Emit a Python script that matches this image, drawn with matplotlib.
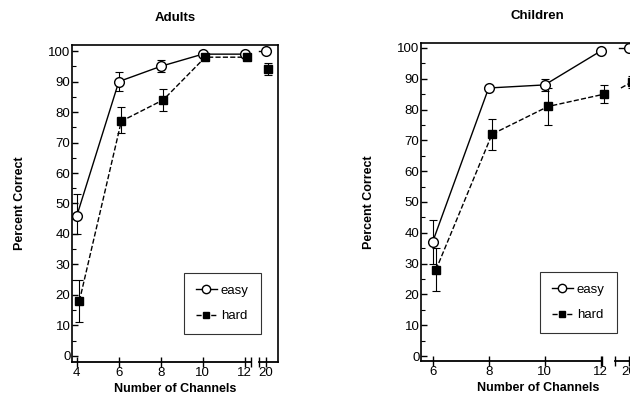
import matplotlib
matplotlib.use('Agg')
import matplotlib.pyplot as plt
from matplotlib.ticker import MultipleLocator

plt.rcParams['font.family'] = ['Liberation Sans', 'DejaVu Sans']

# Adults data (x: number of channels)
adult_channels = ['4', '6', '8', '10', '12', '20']
adult_easy = [46, 90, 95, 99, 99, 100]
adult_easy_lo = [40, 87, 93, 98, 98, 99]
adult_easy_hi = [53, 93, 97, 100, 100, 100]
adult_hard = [18, 77, 84, 98, 98, 94]
adult_hard_lo = [11, 73, 80.5, 97, 97, 92]
adult_hard_hi = [25, 81.5, 87.5, 99, 99, 96]

# Children data
child_channels = ['6', '8', '10', '12', '20']
child_easy = [37, 87, 88, 99, 100]
child_easy_lo = [30, 86, 86, 98, 99]
child_easy_hi = [44, 88, 90, 100, 100]
child_hard = [28, 72, 81, 85, 89]
child_hard_lo = [21, 67, 75, 82, 87]
child_hard_hi = [35, 77, 87, 88, 91]


def panel(ax, labels, easy, elo, ehi, hard, hlo, hhi, xlim, ylim, gap, title,
          hard_stub, leg_anchor):
    n = len(labels)
    # last category sits after an axis break, half a step away
    pos = list(range(n - 1)) + [n - 1.5]
    pos_h = [p + 0.06 for p in pos]
    k = n - 1

    # connected part
    ax.plot(pos[:k], easy[:k], '-', color='black', lw=1.0, zorder=2)
    ax.plot(pos_h[:k], hard[:k], '--', color='black', lw=1.0, zorder=2)
    # short stubs before the point after the break
    ax.plot([pos[k] - 0.17, pos[k]], [easy[k], easy[k]], '-', color='black', lw=1.0, zorder=2)
    if hard_stub:
        ax.plot([pos_h[k] - 0.2, pos_h[k]], [hard[k] - 2, hard[k]], '--',
                color='black', lw=1.0, zorder=2)

    ax.errorbar(pos, easy, yerr=[[e - l for e, l in zip(easy, elo)],
                                 [h - e for e, h in zip(easy, ehi)]],
                fmt='none', ecolor='black', elinewidth=0.8, capsize=3, capthick=0.8, zorder=1)
    ax.errorbar(pos_h, hard, yerr=[[e - l for e, l in zip(hard, hlo)],
                                   [h - e for e, h in zip(hard, hhi)]],
                fmt='none', ecolor='black', elinewidth=0.8, capsize=3, capthick=0.8, zorder=1)
    ax.plot(pos, easy, 'o', mfc='white', mec='black', mew=1.0, ms=7, zorder=3)
    ax.plot(pos_h, hard, 's', mfc='black', mec='black', ms=6, zorder=3)

    # legend handles
    h1, = ax.plot([], [], '-o', color='black', mfc='white', mec='black', ms=6, lw=1.0, label='easy')
    h2, = ax.plot([], [], '--s', color='black', mfc='black', ms=5, lw=1.0, label='hard')
    leg = ax.legend(handles=[h1, h2], loc='lower right', bbox_to_anchor=leg_anchor,
                    borderaxespad=0, frameon=True, fancybox=False, handlelength=1.6,
                    handletextpad=0.3, labelspacing=1.0, borderpad=0.9, fontsize=9.5)
    leg.get_frame().set_edgecolor('black')
    leg.get_frame().set_linewidth(0.8)

    ax.set_xlim(*xlim)
    ax.set_ylim(*ylim)
    ax.set_xticks(pos)
    ax.set_xticklabels(labels, fontsize=9.5)
    ax.yaxis.set_major_locator(MultipleLocator(10))
    ax.yaxis.set_minor_locator(MultipleLocator(5))
    ax.tick_params(axis='y', which='major', direction='in', length=4, width=1.0,
                   labelsize=9.5, pad=1)
    ax.tick_params(axis='y', which='minor', direction='in', length=3, width=0.8)
    ax.tick_params(axis='x', direction='inout', length=7, width=1.0, pad=0)

    # broken bottom axis
    ax.spines['bottom'].set_visible(False)
    tr = ax.get_xaxis_transform()
    ax.plot([xlim[0], gap[0]], [0, 0], color='black', lw=1.3, transform=tr, clip_on=False)
    ax.plot([gap[1], xlim[1]], [0, 0], color='black', lw=1.3, transform=tr, clip_on=False)
    ax.plot(gap, [0, 0], '|', color='black', ms=7, mew=1.0, transform=tr, clip_on=False)
    for s in ['left', 'top', 'right']:
        ax.spines[s].set_linewidth(1.2)

    ax.set_xlabel('Number of Channels', fontsize=9, fontweight='bold', labelpad=3)
    ax.set_ylabel('Percent Correct', fontsize=9, fontweight='bold', labelpad=16)
    ax.set_title(title, fontsize=9.5, fontweight='bold', pad=17)


fig = plt.figure(figsize=(6.3, 4.0), dpi=100)
ax1 = fig.add_axes([0.114, 0.095, 0.327, 0.7925])
ax2 = fig.add_axes([0.668, 0.0975, 0.371, 0.795])

panel(ax1, adult_channels, adult_easy, adult_easy_lo, adult_easy_hi,
      adult_hard, adult_hard_lo, adult_hard_hi,
      (-0.12, 4.79), (-2, 102), (4.14, 4.33), 'Adults', False, (0.917, 0.088))
panel(ax2, child_channels, child_easy, child_easy_lo, child_easy_hi,
      child_hard, child_hard_lo, child_hard_hi,
      (-0.21, 3.96), (-1.6, 101.6), (3.02, 3.26), 'Children', True, (0.838, 0.088))

fig.savefig('out.png', dpi=100)
